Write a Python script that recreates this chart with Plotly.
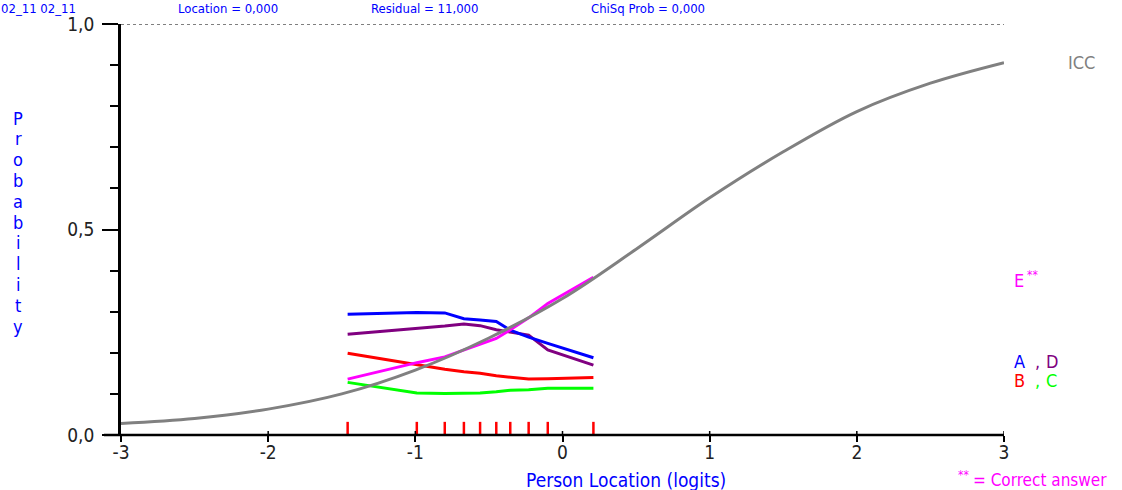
import plotly.graph_objects as go

# ICC (expected curve)
icc_x = [-3, -2.5, -2, -1.5, -1, -0.5, 0, 0.5, 1, 1.5, 2, 2.5, 3]
icc_p = [0.028, 0.040, 0.063, 0.100, 0.158, 0.236, 0.332, 0.452, 0.577, 0.689, 0.787, 0.856, 0.906]

# class-interval locations (red ticks) and observed proportions per distractor
group_x = [-1.46, -0.99, -0.80, -0.67, -0.56, -0.45, -0.355, -0.23, -0.10, 0.21]
prop_A = [0.294, 0.298, 0.297, 0.283, 0.280, 0.276, 0.255, 0.238, 0.223, 0.188]
prop_B = [0.199, 0.170, 0.160, 0.154, 0.150, 0.144, 0.140, 0.136, 0.137, 0.140]
prop_C = [0.128, 0.102, 0.101, 0.101, 0.102, 0.105, 0.109, 0.110, 0.114, 0.114]
prop_D = [0.245, 0.258, 0.265, 0.270, 0.266, 0.256, 0.250, 0.243, 0.207, 0.170]
prop_E = [0.136, 0.176, 0.190, 0.207, 0.221, 0.235, 0.256, 0.285, 0.320, 0.384]

y_tickvals = [0, 0.5, 1]
y_ticktext = ["0,0", "0,5", "1,0"]
x_tickvals = [-3, -2, -1, 0, 1, 2, 3]
x_ticktext = ["-3", "-2", "-1", "0", "1", "2", "3"]
y_title = "Probability"
header_parts = ["02_11 02_11", "Location = 0,000", "Residual = 11,000", "ChiSq Prob = 0,000"]

FONT = "DejaVu Sans Condensed, DejaVu Sans"
BLUE = "#0000FF"
PURPLE = "#800080"
RED = "#FF0000"
GREEN = "#00FF00"
MAGENTA = "#FF00FF"
GRAY = "#808080"
TXT = "#222222"

fig = go.Figure()

# red ticks for class intervals
tx, ty = [], []
for g in group_x:
    tx += [g, g, None]
    ty += [0, 0.032, None]
fig.add_trace(go.Scatter(x=tx, y=ty, mode="lines", line=dict(color=RED, width=2.5),
                         hoverinfo="skip", showlegend=False))

for vals, col in [(prop_C, GREEN), (prop_B, RED), (prop_D, PURPLE), (prop_A, BLUE), (prop_E, MAGENTA)]:
    fig.add_trace(go.Scatter(x=group_x, y=vals, mode="lines",
                             line=dict(color=col, width=3), showlegend=False))

fig.add_trace(go.Scatter(x=icc_x, y=icc_p, mode="lines",
                         line=dict(color=GRAY, width=3, shape="spline"), showlegend=False))

W, H = 1122, 490
L, R, T, B = 121, 1004, 24, 435
pw, ph = R - L, B - T

def px(xp):
    return (xp - L) / pw

def py(yp):
    return (B - yp) / ph

# dashed line at 1.0
fig.add_shape(type="line", xref="x", yref="y", x0=-3, x1=3, y0=1, y1=1,
              line=dict(color="black", width=1, dash="dot"))
# x axis line (extends left of the y axis)
fig.add_shape(type="line", xref="paper", yref="paper", x0=px(104), x1=1, y0=0, y1=0,
              line=dict(color="black", width=2.5))
# small upward part of the x ticks
for v in x_tickvals[1:]:
    fig.add_shape(type="line", xref="x", yref="paper", x0=v, x1=v, y0=0, y1=py(431),
                  line=dict(color="black", width=1.5))

ann = []

def add(text, xp, yp, color, size, xanchor="left", yanchor="middle"):
    ann.append(dict(text=text, x=px(xp), y=py(yp), xanchor=xanchor, yanchor=yanchor,
                    xref="paper", yref="paper", showarrow=False, borderpad=0,
                    font=dict(color=color, size=size, family=FONT)))

# header line (cut at the top in the original)
for part, xp in zip(header_parts, [0, 177, 370, 590]):
    add(part, xp, 0, BLUE, 13, yanchor="top")

for i, ch in enumerate(y_title):
    add(ch, 18, 118 + i * 20.8, BLUE, 18, xanchor="center")

add("Person Location (logits)", 626, 480, BLUE, 19, xanchor="center")
add("**", 957, 475, MAGENTA, 12)
add("= Correct answer", 972, 480, MAGENTA, 17)
add("ICC", 1067, 62, GRAY, 18)
add("E", 1013, 280, MAGENTA, 18)
add("**", 1026, 275, MAGENTA, 12)
add("A", 1013, 361, BLUE, 18)
add(",", 1034, 361, PURPLE, 18)
add("D", 1045, 361, PURPLE, 18)
add("B", 1013, 380, RED, 18)
add(",", 1034, 380, GREEN, 18)
add("C", 1045, 380, GREEN, 18)

fig.update_layout(
    width=W, height=H,
    margin=dict(l=L, r=W - R, t=T, b=H - B, pad=0),
    paper_bgcolor="white", plot_bgcolor="white",
    annotations=ann,
    xaxis=dict(range=[-3, 3], tickvals=x_tickvals, ticktext=x_ticktext,
               showgrid=False, zeroline=False, showline=False,
               ticks="outside", ticklen=6, tickwidth=1.5, tickcolor="black",
               ticklabelstandoff=-6,
               tickfont=dict(family=FONT, size=19, color=TXT)),
    yaxis=dict(range=[0, 1], tickvals=y_tickvals, ticktext=y_ticktext,
               showgrid=False, zeroline=False, showline=True, linecolor="black", linewidth=2.5,
               ticks="outside", ticklen=16, tickwidth=1.5, tickcolor="black",
               minor=dict(dtick=0.1, ticks="outside", ticklen=8, tickwidth=1.5, tickcolor="black"),
               ticklabelstandoff=4,
               tickfont=dict(family=FONT, size=19, color=TXT)),
)

fig.write_html("out.html")
